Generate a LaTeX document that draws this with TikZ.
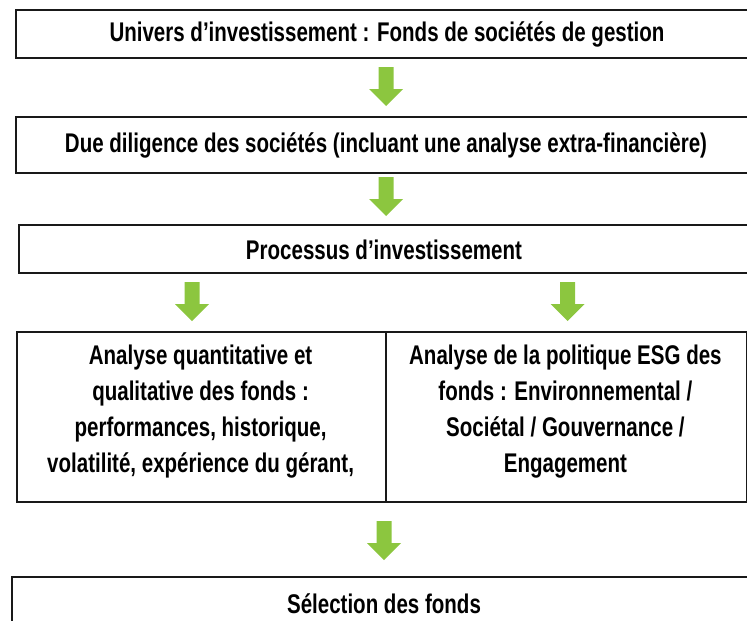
\documentclass[tikz,border=0pt]{standalone}
\usepackage{fontspec}
\setmainfont{Liberation Sans}[FakeStretch=0.76]
\definecolor{arrowgreen}{RGB}{140,198,63}
\definecolor{boxline}{RGB}{25,25,25}
\tikzset{
  box/.style={draw=boxline, line width=2pt, inner sep=0pt, anchor=north west},
  lbl/.style={font=\fontsize{27}{36}\selectfont\bfseries, inner sep=0pt, align=center, text=black},
  garrow/.pic={\fill[arrowgreen] (-7.5,0) -- (7.5,0) -- (7.5,22) -- (17,22) -- (0,39) -- (-17,22) -- (-7.5,22) -- cycle;}
}
\begin{document}
\begin{tikzpicture}[x=1pt,y=-1pt]
\useasboundingbox (0,0) rectangle (747,621);
\clip (0,0) rectangle (747,621);
% boxes
\node[box, minimum width=740pt, minimum height=48.3pt] (b1) at (14.7,8.7) {};
\node[box, minimum width=740pt, minimum height=56pt] (b2) at (15,115.7) {};
\node[box, minimum width=740pt, minimum height=48pt] (b3) at (18,224) {};
\node[box, minimum width=369.3pt, minimum height=169.4pt] (b4) at (16,331.3) {};
\node[box, minimum width=360.2pt, minimum height=169.4pt] (b5) at (385.3,331.3) {};
\node[box, minimum width=745pt, minimum height=70pt] (b6) at (11,575.7) {};
% texts
\node[lbl] (t1) at (387,34.5) {Univers d’investissement : Fonds de sociétés de gestion};
\node[lbl] (t2) at (386,145) {Due diligence des sociétés (incluant une analyse extra-financière)};
\node[lbl] (t3) at (384,249.5) {Processus d’investissement};
\node[lbl] (t4) at (200.6,411.5) {Analyse quantitative et\\qualitative des fonds :\\performances, historique,\\volatilité, expérience du gérant,};
\node[lbl] (t5) at (565.4,411.5) {Analyse de la politique ESG des\\fonds : Environnemental /\\Sociétal / Gouvernance /\\Engagement};
\node[lbl] (t6) at (384,603.5) {Sélection des fonds};
% arrows
\coordinate (a1) at (386,67);
\coordinate (a2) at (386,177);
\coordinate (a3) at (192,282);
\coordinate (a4) at (567.6,282);
\coordinate (a5) at (384,521);
\foreach \a in {a1,a2,a3,a4,a5} { \pic at (\a) {garrow}; }
\end{tikzpicture}
\end{document}
